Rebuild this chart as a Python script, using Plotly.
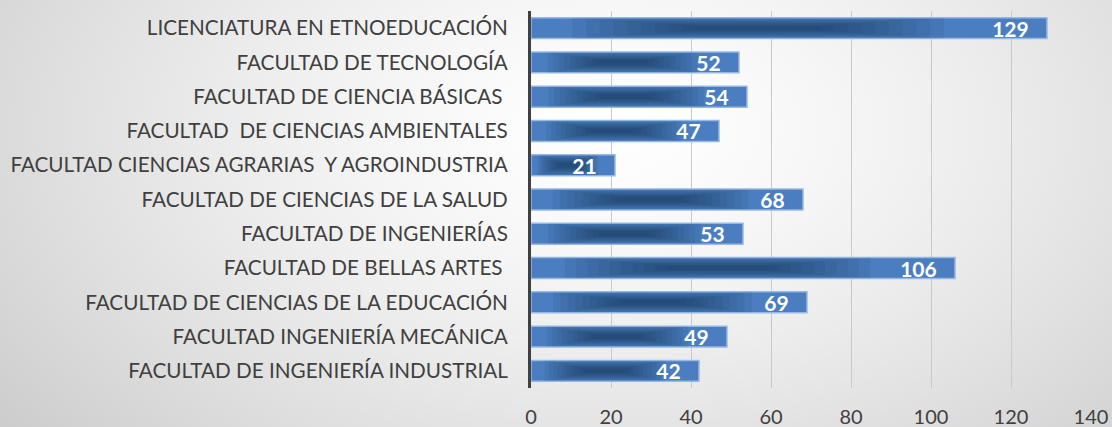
import base64, struct, zlib
import numpy as np
import plotly.graph_objects as go

categories = [
    "LICENCIATURA EN ETNOEDUCACIÓN",
    "FACULTAD DE TECNOLOGÍA",
    "FACULTAD DE CIENCIA BÁSICAS\u00a0",
    "FACULTAD\u00a0\u00a0DE CIENCIAS AMBIENTALES",
    "FACULTAD CIENCIAS AGRARIAS\u00a0\u00a0Y AGROINDUSTRIA",
    "FACULTAD DE CIENCIAS DE LA SALUD",
    "FACULTAD DE INGENIERÍAS",
    "FACULTAD DE BELLAS ARTES\u00a0",
    "FACULTAD DE CIENCIAS DE LA EDUCACIÓN",
    "FACULTAD INGENIERÍA MECÁNICA",
    "FACULTAD DE INGENIERÍA INDUSTRIAL",
]
values = [129, 52, 54, 47, 21, 68, 53, 106, 69, 49, 42]
x_ticks = [0, 20, 40, 60, 80, 100, 120, 140]

W, H = 1112, 427
ML, MR, MT, MB = 531, 21, 11, 39
PW, PH = W - ML - MR, H - MT - MB


def make_bg_png(w=278, h=107):
    xs = np.linspace(0, 1, w)
    ys = np.linspace(0, 1, h)
    X, Y = np.meshgrid(xs, ys)
    dx = (X - 0.55) / 0.62
    dy = (Y - 0.3) / 1.0
    d = np.sqrt(dx * dx + dy * dy)
    v = np.clip(255 - 42 * d ** 1.4, 190, 255).astype(np.uint8)
    raw = b"".join(b"\x00" + bytes(np.stack([v[r]] * 3, axis=1).flatten()) for r in range(h))

    def chunk(t, data):
        c = struct.pack(">I", len(data)) + t + data
        return c + struct.pack(">I", zlib.crc32(t + data) & 0xFFFFFFFF)

    png = b"\x89PNG\r\n\x1a\n"
    png += chunk(b"IHDR", struct.pack(">IIBBBBB", w, h, 8, 2, 0, 0, 0))
    png += chunk(b"IDAT", zlib.compress(raw, 9))
    png += chunk(b"IEND", b"")
    return "data:image/png;base64," + base64.b64encode(png).decode()


FONT = "Lato"
fig = go.Figure()

# base bars
fig.add_trace(go.Bar(
    y=categories, x=values, orientation="h", width=0.61,
    marker=dict(color="#4a7ec0", line=dict(color="#96b9e4", width=1.5)),
    hoverinfo="skip", showlegend=False,
))
# darker shading layers to mimic the horizontal gradient streak
n_layers = 10
for i in range(n_layers):
    t = i / (n_layers - 1)
    half = 0.36 - 0.24 * t
    center = 0.44
    wdt = 0.6 - 0.48 * t
    fig.add_trace(go.Bar(
        y=categories, x=[v * 2 * half for v in values],
        base=[v * (center - half) for v in values],
        orientation="h", width=wdt,
        marker=dict(color="rgba(18,38,70,0.075)", line=dict(width=0)),
        hoverinfo="skip", showlegend=False,
    ))
# labels
fig.add_trace(go.Bar(
    y=categories, x=values, orientation="h", width=0.61,
    marker=dict(color="rgba(0,0,0,0)", line=dict(width=0)),
    text=[f"{v}\u00a0\u00a0\u00a0" for v in values],
    textposition="inside", insidetextanchor="end", constraintext="none",
    textfont=dict(family=FONT, size=21, color="white", weight="bold"),
    cliponaxis=False, hoverinfo="skip", showlegend=False,
))

fig.update_layout(
    width=W, height=H,
    barmode="overlay",
    margin=dict(l=ML, r=MR, t=MT, b=MB),
    paper_bgcolor="#e6e6e6",
    plot_bgcolor="rgba(0,0,0,0)",
    font=dict(family=FONT, color="#404040"),
    images=[dict(
        source=make_bg_png(), xref="paper", yref="paper",
        x=-ML / PW, y=1 + MT / PH, sizex=W / PW, sizey=H / PH,
        xanchor="left", yanchor="top", sizing="stretch", layer="below",
    )],
    xaxis=dict(
        range=[0, 140], tickvals=x_ticks, ticktext=[str(t) for t in x_ticks],
        showgrid=True, gridcolor="#c9c9c9", gridwidth=1, zeroline=False,
        showline=False, ticks="", tickfont=dict(family=FONT, size=20, color="#404040"),
        ticklabelstandoff=15, automargin=False,
    ),
    yaxis=dict(
        autorange="reversed", showgrid=False, zeroline=False,
        showline=True, linecolor="#404040", linewidth=3, ticks="",
        tickfont=dict(family=FONT, size=20.7, color="#404040"),
        ticklabelstandoff=16, automargin=False,
    ),
)

fig.write_html("out.html")
